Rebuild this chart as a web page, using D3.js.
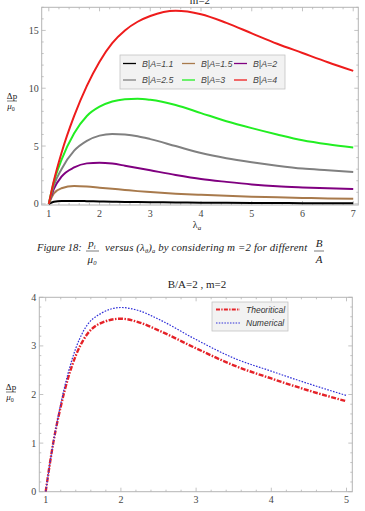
<!DOCTYPE html>
<html><head><meta charset="utf-8">
<script src="https://cdn.jsdelivr.net/npm/d3@7"></script>
<style>
body{margin:0;background:#fff;}
svg{display:block;}
text{font-family:"Liberation Serif","DejaVu Serif",serif;}
</style></head>
<body>
<svg id="c" width="365" height="511"></svg>
<script>
// ---------- Top chart data (m=2, different B/A) ----------
const lamTop = [1.0,1.1,1.25,1.5,1.75,2.0,2.25,2.5,2.75,3.0,3.5,4.0,4.5,5.0,5.5,6.0,6.5,7.0];
const seriesNames = ["B|A=1.1","B|A=1.5","B|A=2","B|A=2.5","B|A=3","B|A=4"];
const seriesColors = ["#000000","#a87a4c","#800080","#808080","#22ee22","#ee1c1c"];
const ba11 = [0,0.18,0.25,0.25,0.23,0.2,0.18,0.16,0.15,0.14,0.12,0.1,0.09,0.08,0.07,0.06,0.055,0.05];
const ba15 = [0,0.9,1.35,1.55,1.5,1.4,1.3,1.2,1.1,1.02,0.88,0.78,0.69,0.62,0.56,0.51,0.47,0.43];
const ba2  = [0,1.3,2.35,3.15,3.5,3.56,3.48,3.3,3.1,2.9,2.5,2.15,1.9,1.68,1.52,1.42,1.34,1.29];
const ba25 = [0,1.6,3.0,4.6,5.45,5.9,6.05,6.0,5.85,5.6,5.0,4.4,3.95,3.6,3.3,3.05,2.9,2.75];
const ba3  = [0,1.9,3.8,6.1,7.6,8.4,8.85,9.05,9.1,9.0,8.55,7.85,7.15,6.55,6.0,5.5,5.15,4.88];
const ba4  = [0,2.0,4.4,7.6,10.2,12.3,13.9,15.0,15.75,16.25,16.7,16.4,15.65,14.75,13.85,13.05,12.25,11.5];
const topSeries = [ba11,ba15,ba2,ba25,ba3,ba4];
const topXTicks = [1,2,3,4,5,6,7];
const topYTicks = [0,5,10,15];

// ---------- Bottom chart data (B/A=2, m=2) ----------
const lamBot = [1.0,1.1,1.2,1.3,1.4,1.5,1.75,2.0,2.25,2.5,3.0,3.5,4.0,4.5,5.0];
const theoretical = [0,1.0,1.75,2.35,2.8,3.12,3.48,3.56,3.48,3.32,2.95,2.6,2.33,2.08,1.86];
const numerical   = [0,1.0,1.8,2.45,2.95,3.3,3.68,3.79,3.72,3.55,3.13,2.75,2.48,2.22,1.98];
const botNames = ["Theoritical","Numerical"];
const botXTicks = [1,2,3,4,5];
const botYTicks = [0,1,2,3,4];

const svg = d3.select("#c");
const frameCol = "#b4b4b4";
const labCol = "#444";

function frame(g, x, y, xTicks, yTicks, xMinor, yMinor){
  const [x0,x1] = x.range(), [y0,y1] = y.range();
  g.append("rect").attr("x",x0).attr("y",y1).attr("width",x1-x0).attr("height",y0-y1)
    .attr("fill","none").attr("stroke",frameCol).attr("stroke-width",1);
  const tk = g.append("g").attr("stroke",frameCol).attr("stroke-width",0.8);
  xMinor.forEach(v=>{const L = xTicks.some(t=>Math.abs(t-v)<1e-6)?4:2;
    tk.append("line").attr("x1",x(v)).attr("x2",x(v)).attr("y1",y0).attr("y2",y0-L);
    tk.append("line").attr("x1",x(v)).attr("x2",x(v)).attr("y1",y1).attr("y2",y1+L);});
  yMinor.forEach(v=>{const L = yTicks.some(t=>Math.abs(t-v)<1e-6)?4:2;
    tk.append("line").attr("y1",y(v)).attr("y2",y(v)).attr("x1",x0).attr("x2",x0+L);
    tk.append("line").attr("y1",y(v)).attr("y2",y(v)).attr("x1",x1).attr("x2",x1-L);});
  xTicks.forEach(v=>g.append("text").attr("x",x(v)).attr("y",y0+11.5).attr("text-anchor","middle")
    .attr("font-size",10).attr("fill",labCol).text(v));
  yTicks.forEach(v=>g.append("text").attr("x",x0-3).attr("y",y(v)+3.5).attr("text-anchor","end")
    .attr("font-size",10).attr("fill",labCol).text(v));
}
function range(a,b,s){const r=[];for(let v=a;v<=b+1e-9;v+=s)r.push(+v.toFixed(4));return r;}

function yLabel(g, cx, cy){
  g.append("text").attr("x",cx).attr("y",cy-2).attr("text-anchor","middle").attr("font-size",9).attr("fill","#222").text("Δp");
  g.append("line").attr("x1",cx-5).attr("x2",cx+5).attr("y1",cy).attr("y2",cy).attr("stroke","#222").attr("stroke-width",0.6);
  const t = g.append("text").attr("x",cx-1).attr("y",cy+8).attr("text-anchor","middle").attr("font-size",9).attr("fill","#222").attr("font-style","italic");
  t.append("tspan").text("μ");
  t.append("tspan").attr("font-size",6).attr("dy",1.5).attr("font-style","normal").text("0");
}

// ================= TOP CHART =================
const gt = svg.append("g");
const xT = d3.scaleLinear().domain([0.86,7.1]).range([41.7,358.3]);
const yT = d3.scaleLinear().domain([-0.1,17.0]).range([205,7.3]);
svg.append("clipPath").attr("id","clipT").append("rect")
  .attr("x",41.7).attr("y",7.3).attr("width",358.3-41.7).attr("height",205-7.3);
frame(gt, xT, yT, topXTicks, topYTicks, range(1,7,0.2), range(0,17,1));
gt.append("text").attr("x",200).attr("y",4).attr("text-anchor","middle").attr("font-size",11).attr("fill","#222").text("m=2");
yLabel(gt, 12, 101);
{const t = gt.append("text").attr("x",197).attr("y",228).attr("text-anchor","middle").attr("font-size",10).attr("fill","#222");
 t.append("tspan").text("λ"); t.append("tspan").attr("font-size",7).attr("dy",2).attr("font-style","italic").text("a");}

const lineT = d3.line().x((d,i)=>xT(lamTop[i])).y(d=>yT(d)).curve(d3.curveMonotoneX);
const gl = gt.append("g").attr("clip-path","url(#clipT)");
topSeries.forEach((s,i)=>{
  gl.append("path").attr("d",lineT(s)).attr("fill","none").attr("stroke",seriesColors[i])
    .attr("stroke-width",2).attr("stroke-linejoin","round");
});
// legend
const lg = gt.append("g");
lg.append("rect").attr("x",120).attr("y",55).attr("width",165).attr("height",34)
  .attr("fill","#f2f2f2").attr("stroke","#c4c4c4").attr("stroke-width",0.8);
const colX = [123,182,234];
seriesNames.forEach((n,i)=>{
  const r = Math.floor(i/3), c = i%3;
  const yy = 63.5 + r*16.5, xx = colX[c];
  lg.append("line").attr("x1",xx).attr("x2",xx+13).attr("y1",yy).attr("y2",yy)
    .attr("stroke",seriesColors[i]).attr("stroke-width",1.3);
  lg.append("text").attr("x",xx+19).attr("y",yy+3).attr("font-size",8.8).attr("font-style","italic")
    .attr("fill","#444").style("font-family","'Liberation Sans',sans-serif").text(n);
});

// ================= CAPTION =================
const gc = svg.append("g").attr("fill","#222").attr("font-style","italic");
gc.append("text").attr("x",37).attr("y",251).attr("font-size",10.5).text("Figure 18:");
gc.append("text").attr("x",92).attr("y",247).attr("text-anchor","middle").attr("font-size",11)
  .html('p<tspan font-size="6.5" dy="1.5">i</tspan>');
gc.append("line").attr("x1",86).attr("x2",99).attr("y1",251).attr("y2",251).attr("stroke","#222").attr("stroke-width",0.6);
gc.append("text").attr("x",92).attr("y",263).attr("text-anchor","middle").attr("font-size",11)
  .html('μ<tspan font-size="6.5" dy="1.5">0</tspan>');
gc.append("text").attr("x",105).attr("y",251).attr("font-size",10.8).attr("letter-spacing",0.15)
  .html('versus (λ<tspan font-size="6.5" dy="2">θ</tspan><tspan dy="-2">)</tspan><tspan font-size="6.5" dy="2">a</tspan><tspan dy="-2"> by considering </tspan><tspan font-size="11">m</tspan> =2 for different');
gc.append("text").attr("x",319).attr("y",247).attr("text-anchor","middle").attr("font-size",11).text("B");
gc.append("line").attr("x1",314).attr("x2",324).attr("y1",251).attr("y2",251).attr("stroke","#222").attr("stroke-width",0.6);
gc.append("text").attr("x",319).attr("y",263).attr("text-anchor","middle").attr("font-size",11).text("A");

// ================= BOTTOM CHART =================
const gb = svg.append("g");
const xB = d3.scaleLinear().domain([0.915,5.077]).range([39.3,352.3]);
const yB = d3.scaleLinear().domain([0,4.0]).range([491.7,297.3]);
svg.append("clipPath").attr("id","clipB").append("rect")
  .attr("x",39.3).attr("y",297.3).attr("width",352.3-39.3).attr("height",491.7-297.3);
frame(gb, xB, yB, botXTicks, botYTicks, range(1,5,0.2), range(0,4,0.2));
gb.append("text").attr("x",197).attr("y",288).attr("text-anchor","middle").attr("font-size",11).attr("fill","#222").text("B/A=2 , m=2");
yLabel(gb, 11, 392);
{const t = gb.append("text").attr("x",193).attr("y",519).attr("text-anchor","middle").attr("font-size",10).attr("fill","#222");
 t.append("tspan").text("λ"); t.append("tspan").attr("font-size",7).attr("dy",2).attr("font-style","italic").text("a");}

const lineB = d3.line().x((d,i)=>xB(lamBot[i])).y(d=>yB(d)).curve(d3.curveMonotoneX);
const gbl = gb.append("g").attr("clip-path","url(#clipB)");
gbl.append("path").attr("d",lineB(theoretical)).attr("fill","none").attr("stroke","#e52228")
  .attr("stroke-width",2.4).attr("stroke-dasharray","5,1.5,1.5,1.5");
gbl.append("path").attr("d",lineB(numerical)).attr("fill","none").attr("stroke","#3030d8")
  .attr("stroke-width",1.2).attr("stroke-dasharray","1.6,1.4");
const lb = gb.append("g");
lb.append("rect").attr("x",212).attr("y",302).attr("width",76).attr("height",29)
  .attr("fill","#f2f2f2").attr("stroke","#c4c4c4").attr("stroke-width",0.8);
lb.append("line").attr("x1",216).attr("x2",240).attr("y1",309.5).attr("y2",309.5)
  .attr("stroke","#e52228").attr("stroke-width",1.8).attr("stroke-dasharray","4,1.3,1.3,1.3");
lb.append("line").attr("x1",216).attr("x2",240).attr("y1",323).attr("y2",323)
  .attr("stroke","#3030d8").attr("stroke-width",1).attr("stroke-dasharray","1.5,1.3");
botNames.forEach((n,i)=>{
  lb.append("text").attr("x",246).attr("y",312.5+i*13.5).attr("font-size",8.5).attr("font-style","italic")
    .attr("fill","#333").style("font-family","'Liberation Sans',sans-serif").text(n);
});
</script>
</body></html>
